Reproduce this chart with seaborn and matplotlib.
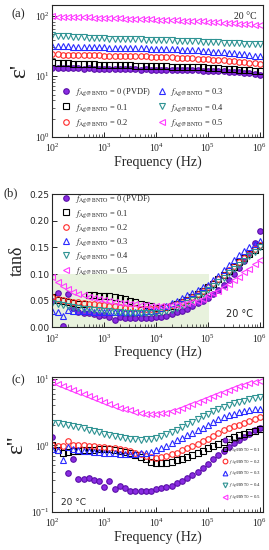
import numpy as np
import pandas as pd
import matplotlib
matplotlib.use("Agg")
import matplotlib.pyplot as plt
import seaborn as sns

# measurement grid (Hz), 10 points per decade
FREQ = [1.00e2, 1.26e2, 1.58e2, 2.00e2, 2.51e2, 3.16e2, 3.98e2, 5.01e2, 6.31e2, 7.94e2,
        1.00e3, 1.26e3, 1.58e3, 2.00e3, 2.51e3, 3.16e3, 3.98e3, 5.01e3, 6.31e3, 7.94e3,
        1.00e4, 1.26e4, 1.58e4, 2.00e4, 2.51e4, 3.16e4, 3.98e4, 5.01e4, 6.31e4, 7.94e4,
        1.00e5, 1.26e5, 1.58e5, 2.00e5, 2.51e5, 3.16e5, 3.98e5, 5.01e5, 6.31e5, 7.94e5,
        1.00e6]

SAMPLES = ['0 (PVDF)', '0.1', '0.2', '0.3', '0.4', '0.5']

# (a) real permittivity
EPS1_PVDF = [13.8, 13.9, 13.6, 13.7, 13.5, 13.6, 13.4, 13.5, 13.3, 13.4, 13.3,
             13.2, 13.3, 13.1, 13.2, 13.0, 13.1, 12.9, 13.0, 12.9, 12.9,
             12.8, 12.9, 12.7, 12.8, 12.6, 12.7, 12.5, 12.6, 12.4, 12.4,
             12.3, 12.2, 12.1, 11.9, 11.8, 11.6, 11.4, 11.2, 10.9, 10.6]
EPS1_01 = [17.1, 16.8, 16.6, 16.4, 16.2, 16.0, 15.9, 15.8, 15.7, 15.6, 15.6,
           15.5, 15.4, 15.3, 15.2, 15.1, 15.0, 14.9, 14.9, 14.8, 14.7,
           14.6, 14.6, 14.5, 14.4, 14.3, 14.3, 14.2, 14.1, 14.0, 13.8,
           13.7, 13.6, 13.4, 13.3, 13.1, 12.9, 12.7, 12.5, 12.3, 12.0]
EPS1_02 = [23.0, 22.9, 22.8, 22.7, 22.6, 22.5, 22.4, 22.3, 22.2, 22.1, 22.0,
           21.9, 21.8, 21.7, 21.6, 21.5, 21.4, 21.3, 21.2, 21.1, 21.0,
           20.8, 20.6, 20.5, 20.3, 20.1, 19.9, 19.7, 19.5, 19.3, 19.0,
           18.8, 18.5, 18.3, 18.0, 17.7, 17.4, 17.1, 16.8, 16.5, 16.2]
EPS1_03 = [31.6, 31.4, 31.2, 31.0, 30.8, 30.7, 30.5, 30.4, 30.2, 30.1, 30.0,
           29.8, 29.7, 29.5, 29.4, 29.3, 29.1, 29.0, 28.9, 28.7, 28.6,
           28.4, 28.2, 28.0, 27.7, 27.5, 27.3, 27.0, 26.8, 26.5, 26.0,
           25.6, 25.2, 24.8, 24.4, 23.9, 23.4, 22.9, 22.4, 21.9, 21.4]
EPS1_04 = [47.6, 47.0, 46.3, 45.7, 45.1, 44.5, 44.0, 43.5, 43.0, 42.5, 42.0,
           41.8, 41.6, 41.4, 41.2, 41.0, 40.8, 40.6, 40.4, 40.2, 40.0,
           39.7, 39.4, 39.1, 38.8, 38.5, 38.2, 37.9, 37.6, 37.3, 37.0,
           36.6, 36.3, 35.9, 35.6, 35.2, 34.9, 34.6, 34.3, 34.0, 33.7]
EPS1_05 = [97.0, 96.5, 96.0, 95.5, 95.0, 94.5, 94.0, 93.5, 93.0, 92.5, 92.0,
           91.4, 90.8, 90.2, 89.6, 89.0, 88.4, 87.8, 87.2, 86.6, 86.0,
           85.4, 84.8, 84.2, 83.6, 83.0, 82.4, 81.8, 81.2, 80.6, 80.0,
           79.0, 78.0, 77.0, 76.0, 75.0, 74.0, 73.0, 72.0, 71.0, 70.0]

# (b) loss tangent
TAN_PVDF = [0.050, 0.065, 0.002, 0.062, 0.036, 0.029, 0.026, 0.027, 0.024, 0.022, 0.023,
            0.020, 0.013, 0.019, 0.018, 0.018, 0.017, 0.018, 0.018, 0.018, 0.019,
            0.020, 0.022, 0.025, 0.028, 0.031, 0.035, 0.040, 0.045, 0.050, 0.055,
            0.062, 0.070, 0.079, 0.089, 0.100, 0.112, 0.125, 0.140, 0.158, 0.180]
TAN_01 = [0.057, 0.052, 0.050, 0.048, 0.046, 0.044, 0.043, 0.060, 0.060, 0.059, 0.059,
          0.058, 0.057, 0.055, 0.053, 0.050, 0.047, 0.044, 0.041, 0.039, 0.037,
          0.037, 0.038, 0.040, 0.043, 0.047, 0.051, 0.056, 0.062, 0.068, 0.075,
          0.082, 0.090, 0.098, 0.106, 0.114, 0.122, 0.130, 0.138, 0.145, 0.152]
TAN_02 = [0.057, 0.054, 0.052, 0.050, 0.048, 0.047, 0.045, 0.044, 0.043, 0.042, 0.041,
          0.040, 0.039, 0.038, 0.037, 0.036, 0.036, 0.035, 0.035, 0.035, 0.035,
          0.036, 0.038, 0.041, 0.044, 0.048, 0.052, 0.057, 0.063, 0.069, 0.076,
          0.083, 0.091, 0.099, 0.107, 0.115, 0.123, 0.131, 0.139, 0.147, 0.155]
TAN_03 = [0.030, 0.028, 0.022, 0.032, 0.030, 0.031, 0.030, 0.030, 0.029, 0.029, 0.029,
          0.028, 0.028, 0.028, 0.028, 0.028, 0.028, 0.029, 0.030, 0.031, 0.033,
          0.036, 0.040, 0.045, 0.050, 0.055, 0.060, 0.065, 0.070, 0.075, 0.080,
          0.088, 0.097, 0.107, 0.117, 0.126, 0.135, 0.143, 0.150, 0.156, 0.162]
TAN_04 = [0.045, 0.043, 0.041, 0.040, 0.038, 0.036, 0.035, 0.034, 0.033, 0.032, 0.031,
          0.030, 0.029, 0.028, 0.027, 0.027, 0.026, 0.026, 0.026, 0.026, 0.027,
          0.028, 0.030, 0.033, 0.037, 0.041, 0.046, 0.051, 0.057, 0.063, 0.070,
          0.077, 0.085, 0.093, 0.101, 0.109, 0.117, 0.125, 0.133, 0.141, 0.150]
TAN_05 = [0.095, 0.085, 0.078, 0.072, 0.067, 0.063, 0.060, 0.057, 0.055, 0.053, 0.051,
          0.049, 0.048, 0.046, 0.045, 0.044, 0.043, 0.042, 0.041, 0.040, 0.040,
          0.040, 0.040, 0.041, 0.042, 0.043, 0.045, 0.047, 0.050, 0.053, 0.060,
          0.064, 0.069, 0.075, 0.081, 0.088, 0.095, 0.103, 0.110, 0.118, 0.126]

# (c) imaginary permittivity
EPS2_PVDF = [1.33, np.nan, np.nan, 0.38, 0.62, 0.31, 0.31, 0.32, 0.30, 0.29, 0.24,
             0.29, 0.22, 0.25, 0.23, 0.21, 0.21, 0.21, 0.21, 0.21, 0.22,
             0.23, 0.24, 0.25, 0.27, 0.29, 0.32, 0.36, 0.40, 0.46, 0.53,
             0.62, 0.72, 0.83, 0.95, 1.07, 1.20, 1.35, 1.50, 1.68, 1.85]
EPS2_01 = [1.00, 0.84, 0.78, 0.80, 0.82, 0.82, 0.84, 0.85, 0.86, 0.87, 0.88,
           0.87, 0.85, 0.83, 0.80, 0.76, 0.72, 0.67, 0.62, 0.57, 0.54,
           0.54, 0.55, 0.57, 0.60, 0.63, 0.67, 0.71, 0.76, 0.83, 0.90,
           0.98, 1.06, 1.14, 1.23, 1.32, 1.41, 1.50, 1.58, 1.66, 1.74]
EPS2_02 = [1.00, 0.98, 0.97, 1.18, 1.02, 1.01, 1.00, 0.99, 0.97, 0.96, 0.94,
           0.92, 0.90, 0.87, 0.84, 0.81, 0.77, 0.73, 0.69, 0.66, 0.65,
           0.66, 0.69, 0.73, 0.78, 0.84, 0.90, 0.97, 1.05, 1.15, 1.26,
           1.40, 1.54, 1.68, 1.80, 1.92, 2.05, 2.20, 2.35, 2.50, 2.62]
EPS2_03 = [0.89, 0.85, 0.60, 0.94, 0.87, 0.85, 0.83, 0.82, 0.80, 0.79, 0.78,
           0.77, 0.76, 0.75, 0.75, 0.75, 0.75, 0.76, 0.78, 0.80, 0.84,
           0.90, 0.98, 1.08, 1.19, 1.30, 1.41, 1.54, 1.68, 1.85, 2.04,
           2.25, 2.45, 2.65, 2.82, 2.98, 3.12, 3.25, 3.36, 3.46, 3.55]
EPS2_04 = [2.19, 2.13, 2.07, 2.01, 1.95, 1.88, 1.81, 1.73, 1.65, 1.58, 1.50,
           1.43, 1.37, 1.32, 1.28, 1.25, 1.23, 1.22, 1.23, 1.26, 1.31,
           1.38, 1.47, 1.58, 1.72, 1.88, 2.06, 2.26, 2.48, 2.72, 2.98,
           3.26, 3.54, 3.80, 4.04, 4.25, 4.48, 4.70, 4.92, 5.12, 5.30]
EPS2_05 = [8.9, 8.3, 7.7, 7.2, 6.8, 6.4, 6.0, 5.6, 5.2, 4.8, 4.5,
           4.2, 3.95, 3.7, 3.5, 3.35, 3.2, 3.08, 3.0, 2.97, 2.98,
           3.02, 3.1, 3.25, 3.45, 3.65, 3.88, 4.12, 4.4, 4.75, 5.15,
           5.55, 5.95, 6.4, 6.85, 7.25, 7.7, 8.1, 8.5, 8.85, 9.2]

COLORS = ['#8a2be2', '#000000', '#ff2a2a', '#2a2aff', '#2f9393', '#ff3cff']
MARKERS = ['o', 's', 'o', '^', 'v', '<']

sns.set_theme(style='ticks')
plt.rcParams['font.family'] = ['Liberation Serif', 'DejaVu Serif']
plt.rcParams['mathtext.fontset'] = 'stix'
plt.rcParams['axes.linewidth'] = 0.8


def long_table(series):
    frames = []
    for name, vals in zip(SAMPLES, series):
        frames.append(pd.DataFrame({'freq': FREQ, 'val': vals, 'sample': name}))
    return pd.concat(frames, ignore_index=True)


def draw_panel(ax, series, labels, ms=4.0):
    df = long_table(series)
    for i, name in enumerate(SAMPLES):
        sub = df[df['sample'] == name].dropna()
        face = COLORS[i] if i == 0 else 'none'
        edge = '#5a10a8' if i == 0 else COLORS[i]
        sns.lineplot(data=sub, x='freq', y='val', ax=ax, estimator=None,
                     linestyle='none', marker=MARKERS[i], markersize=ms,
                     markerfacecolor=face, markeredgecolor=edge,
                     markeredgewidth=0.8, color=COLORS[i], label=labels[i])
    ax.set_xscale('log')
    ax.set_xlim(100, 1.16e6)
    ax.set_xlabel('Frequency (Hz)', fontsize=10, labelpad=1)
    ax.tick_params(which='both', direction='in', labelsize=7, pad=2)
    ax.tick_params(axis='x', which='both', pad=3.5)
    ax.tick_params(which='major', length=3.5, width=0.7)
    ax.tick_params(which='minor', length=2, width=0.5)


fig = plt.figure(figsize=(2.69, 5.5), dpi=100)
ax_a = fig.add_axes([0.195, 0.751, 0.783, 0.240])
ax_b = fig.add_axes([0.195, 0.405, 0.783, 0.242])
ax_c = fig.add_axes([0.195, 0.069, 0.783, 0.245])

full = [r'$f_{\rm Ag@BNTO}$ = ' + s for s in SAMPLES]

# (a)
draw_panel(ax_a, [EPS1_PVDF, EPS1_01, EPS1_02, EPS1_03, EPS1_04, EPS1_05], full)
ax_a.set_yscale('log')
ax_a.set_ylim(1, 150)
ax_a.set_ylabel("ε'", fontsize=17, labelpad=3)
ax_a.text(0.97, 0.95, '20 °C', transform=ax_a.transAxes, ha='right', va='top', fontsize=7)
ax_a.legend(loc='upper left', bbox_to_anchor=(0.03, 0.41), ncol=2, frameon=False,
            fontsize=6, handlelength=1, handletextpad=0.5, columnspacing=0.8,
            labelspacing=0.45, borderaxespad=0)

# (b)
ax_b.fill_between([100, 1.05e5], 0, 0.1, color='#e8f2dd', lw=0, zorder=0)
draw_panel(ax_b, [TAN_PVDF, TAN_01, TAN_02, TAN_03, TAN_04, TAN_05], full)
ax_b.set_ylim(0, 0.25)
ax_b.set_yticks([0, 0.05, 0.10, 0.15, 0.20, 0.25])
ax_b.set_yticklabels(['0.00', '0.05', '0.10', '0.15', '0.20', '0.25'], family='DejaVu Sans', fontsize=6.5)
ax_b.set_ylabel('tanδ', fontsize=13, labelpad=3)
ax_b.text(0.95, 0.06, '20 °C', transform=ax_b.transAxes, ha='right', va='bottom',
          fontsize=7, family='DejaVu Sans')
ax_b.legend(loc='upper left', bbox_to_anchor=(0.03, 1.03), ncol=1, frameon=False,
            fontsize=6, handlelength=1, handletextpad=0.6, labelspacing=0.3, borderaxespad=0)

# (c)
short = ['PVDF'] + [r'$f_{\rm Ag@BNTO}$ = ' + s for s in SAMPLES[1:]]
draw_panel(ax_c, [EPS2_PVDF, EPS2_01, EPS2_02, EPS2_03, EPS2_04, EPS2_05], short)
ax_c.set_yscale('log')
ax_c.set_ylim(0.1, 10.5)
ax_c.set_ylabel("ε''", fontsize=17, labelpad=3)
ax_c.text(0.04, 0.04, '20 °C', transform=ax_c.transAxes, ha='left', va='bottom',
          fontsize=6.5, family='DejaVu Sans')
ax_c.legend(loc='lower left', bbox_to_anchor=(0.8, 0.06), ncol=1, frameon=False,
            fontsize=3.5, markerscale=0.85, handlelength=0.8, handletextpad=0.4,
            labelspacing=0.6, borderaxespad=0)

for lab, x, y in [('(a)', 12, 14), ('(b)', 4, 193), ('(c)', 11, 380)]:
    fig.text(x / 269, 1 - y / 550, lab, fontsize=9, va='center', ha='left')

fig.savefig('out.png', dpi=100)
